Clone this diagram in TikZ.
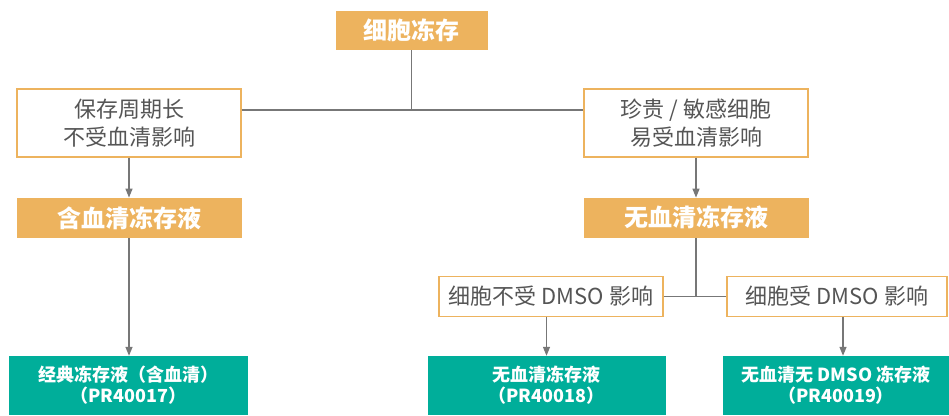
\documentclass[tikz,border=0pt]{standalone}
\usepackage{fontspec}
\setmainfont{Noto Sans CJK SC}
\usetikzlibrary{arrows.meta,positioning}

\definecolor{freezeorange}{HTML}{EDB35E}
\definecolor{freezegreen}{HTML}{00AE9A}
\definecolor{linegray}{HTML}{777777}
\definecolor{textgray}{HTML}{555555}

\begin{document}
\begin{tikzpicture}[
  x=1pt, y=-1pt,
  every node/.style={align=center, inner sep=0pt},
  choice/.style={draw=freezeorange, line width=1.2pt, fill=white, text=textgray,
    font=\fontsize{22}{28}\selectfont, minimum width=224pt},
  medium/.style={fill=freezeorange, text=white, font=\bfseries\fontsize{24}{28}\selectfont,
    minimum width=225pt, minimum height=40pt},
  product/.style={fill=freezegreen, text=white, font=\bfseries\fontsize{18}{21}\selectfont,
    minimum height=59pt},
  link/.style={draw=linegray, line width=1.3pt},
  arrow/.style={link, -{Triangle[length=9pt,width=7pt]}}
]
\useasboundingbox (0,0) rectangle (949,415);

\node[medium, minimum width=152pt, minimum height=39pt] (cryo) at (411.5,30.5) {细胞冻存};

\node[choice, minimum height=68pt] (longterm) at (129,123) {保存周期长\\不受血清影响};
\node[choice, minimum height=68pt] (sensitive) at (696,123) {珍贵 / 敏感细胞\\易受血清影响};

\node[medium, below=40pt of longterm] (serum) {含血清冻存液};
\node[medium, below=40pt of sensitive] (serumfree) {无血清冻存液};

\node[choice, minimum height=39.5pt] (nodmso) at (551,296.5) {细胞不受 DMSO 影响};
\node[choice, minimum width=220pt, minimum height=39.5pt] (dmso) at (837,296.5) {细胞受 DMSO 影响};

\node[product, minimum width=239pt] (pr17) at (128.5,385.5) {经典冻存液（含血清）\\（PR40017）};
\node[product, minimum width=238pt] (pr18) at (546.5,385.5) {无血清冻存液\\（PR40018）};
\node[product, minimum width=227pt] (pr19) at (836,385.5) {无血清无 DMSO 冻存液\\（PR40019）};

% top split
\coordinate (split) at (411.5,110);
\draw[link] (cryo) -- (split);
\draw[link] (longterm.east |- split) -- (sensitive.west |- split);

% left branch
\draw[arrow] (longterm) -- (serum);
\draw[arrow] (serum) -- (serum.south |- pr17.north);

% right branch
\draw[arrow] (sensitive) -- (serumfree);
\draw[link] (serumfree) -- (serumfree.south |- nodmso.east);
\draw[link] (nodmso) -- (dmso);
\draw[arrow] (pr18.north |- nodmso.south) -- (pr18);
\draw[arrow] ([xshift=6pt]dmso.south) -- ([xshift=6pt]dmso.south |- pr19.north);

\end{tikzpicture}
\end{document}
